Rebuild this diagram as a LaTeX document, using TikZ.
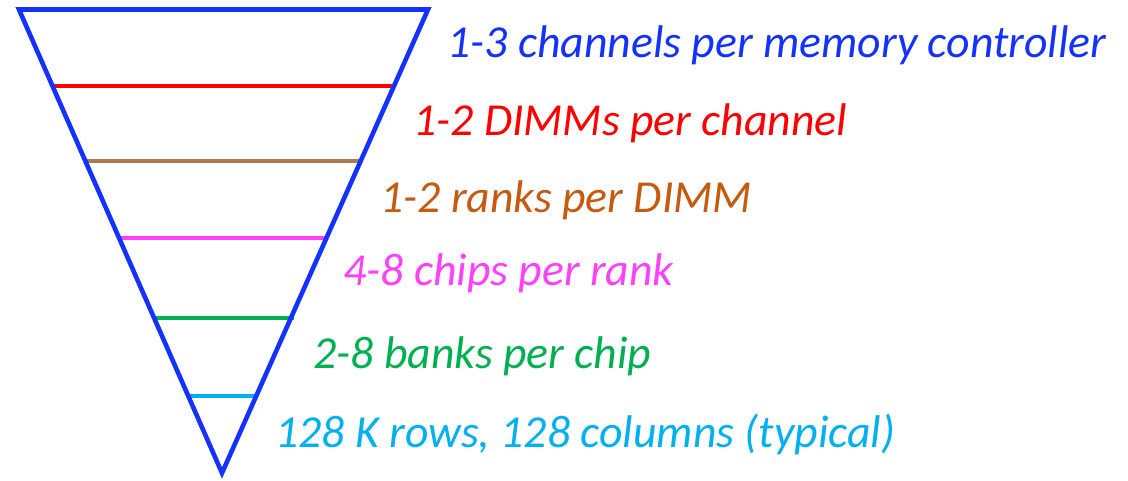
\documentclass[tikz,border=0pt]{standalone}
\usepackage{fontspec}
\setmainfont{Carlito}
\definecolor{tblue}{RGB}{20,50,255}
\definecolor{tred}{RGB}{255,0,0}
\definecolor{tbrownline}{RGB}{170,125,80}
\definecolor{tbrown}{RGB}{197,90,17}
\definecolor{tmag}{RGB}{255,64,255}
\definecolor{tgreen}{RGB}{0,176,80}
\definecolor{tcyan}{RGB}{0,176,240}
\begin{document}
\begin{tikzpicture}[x=1pt,y=-1pt,
  lvl/.style={line width=4.6pt},
  lbl/.style={anchor=base west,inner sep=0pt,font=\fontsize{45.8}{52}\selectfont\itshape}]
\useasboundingbox (0,0) rectangle (1128,480);
\coordinate (tl) at (19,9.5);
\coordinate (tr) at (428,9.5);
\coordinate (bt) at (222,473);
\coordinate (l1) at (52,86);  \coordinate (r1) at (395,86);
\coordinate (l2) at (86,161); \coordinate (r2) at (362,161);
\coordinate (l3) at (119,238);\coordinate (r3) at (328,238);
\coordinate (l4) at (154,318);\coordinate (r4) at (294,318);
\coordinate (l5) at (187,396);\coordinate (r5) at (258,396);
\draw[lvl,tred] (l1) -- (r1);
\draw[lvl,tbrownline] (l2) -- (r2);
\draw[lvl,tmag] (l3) -- (r3);
\draw[lvl,tgreen] (l4) -- (r4);
\draw[lvl,tcyan] (l5) -- (r5);
\draw[lvl,tblue,line join=miter] (tl) -- (tr) -- (bt) -- cycle;
\node[lbl,text=tblue] (t1) at (447,57) {1-3 channels per memory controller};
\node[lbl,text=tred] (t2) at (413,135) {1-2 DIMMs per channel};
\node[lbl,text=tbrown] (t3) at (380,212) {1-2 ranks per DIMM};
\node[lbl,text=tmag] (t4) at (343,285) {4-8 chips per rank};
\node[lbl,text=tgreen] (t5) at (313,368) {2-8 banks per chip};
\node[lbl,text=tcyan] (t6) at (275,447) {128 K rows, 128 columns (typical)};
\end{tikzpicture}
\end{document}
